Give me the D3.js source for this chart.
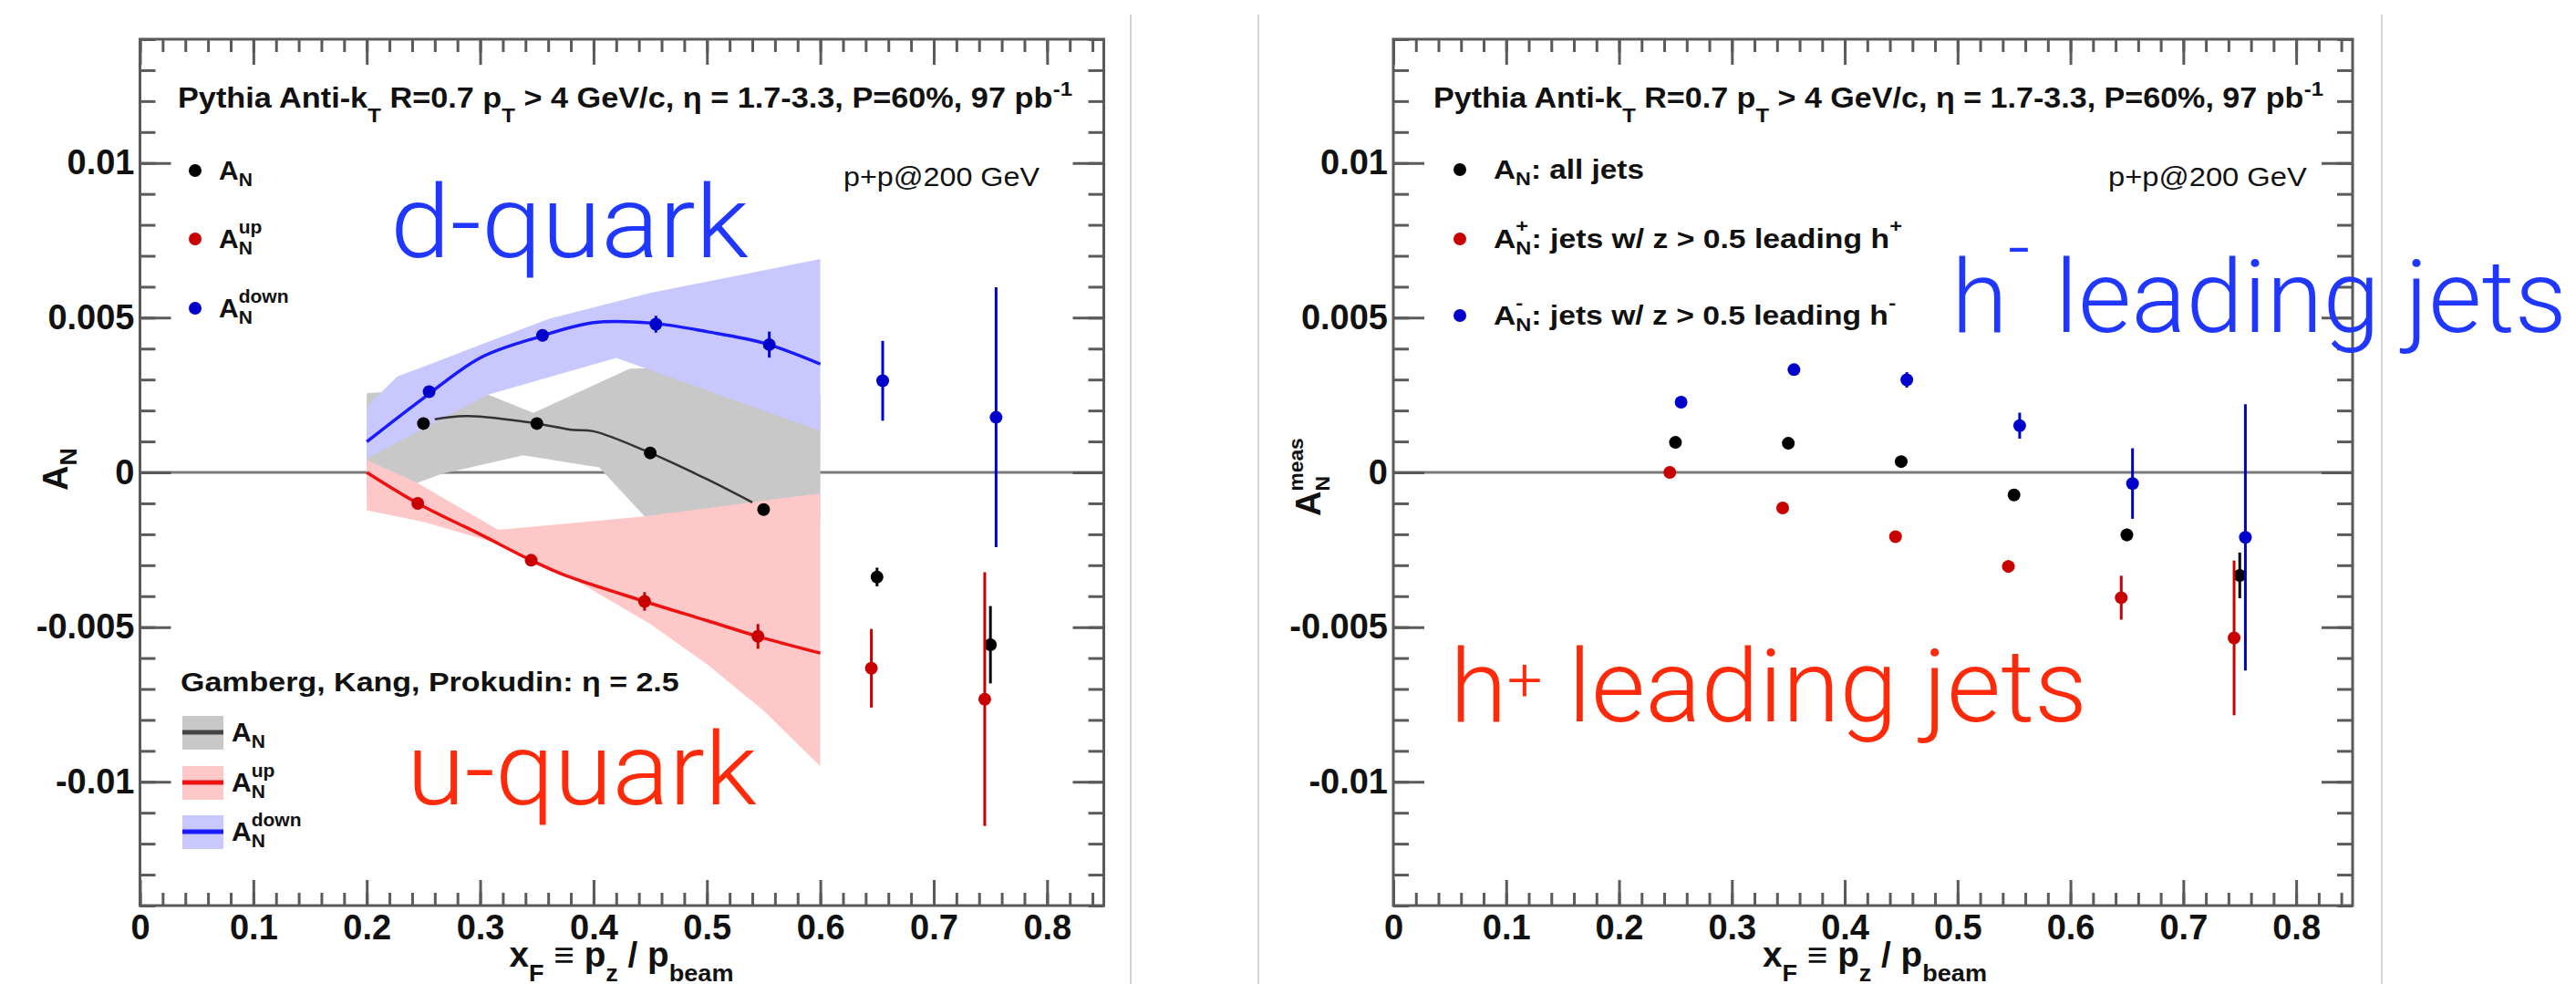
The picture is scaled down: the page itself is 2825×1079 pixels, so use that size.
<!DOCTYPE html>
<html>
<head>
<meta charset="utf-8">
<script src="https://cdn.jsdelivr.net/npm/d3@7"></script>
<style>
  body { margin: 0; background: #fff; }
  svg { display: block; }
  text { white-space: pre; }
</style>
</head>
<body>
<svg id="chart"></svg>
<script>
// x of the bins; the up / down sets sit a little left / right of them
const xBins = [0.25, 0.35, 0.45, 0.55, 0.65, 0.75];
const xUp   = [0.245, 0.345, 0.445, 0.545, 0.645, 0.745];
const xDown = [0.255, 0.355, 0.455, 0.555, 0.655, 0.755];

// left panel: projected A_N, all / up / down
const anAll     = [0.00158, 0.00158, 0.00063, -0.0012, -0.00338, -0.00557];
const anAllErr  = [0.0001, 0.0001, 0.0001, 0.00015, 0.0003, 0.00125];
const anUp      = [-0.001, -0.00284, -0.00417, -0.0053, -0.00633, -0.00733];
const anUpErr   = [0.00015, 0.00015, 0.0003, 0.0004, 0.00127, 0.0041];
const anDown    = [0.00261, 0.00443, 0.00479, 0.00413, 0.00296, 0.00178];
const anDownErr = [0.00015, 0.00015, 0.00027, 0.00042, 0.00129, 0.0042];

// Gamberg, Kang, Prokudin curves
const gkpAllX  = [0.26, 0.29, 0.35, 0.38, 0.40, 0.45, 0.50, 0.54];
const gkpAll   = [0.00172, 0.00182, 0.00158, 0.00138, 0.00133, 0.00063, -0.00022, -0.00097];
const gkpUpX   = [0.2, 0.245, 0.3, 0.345, 0.375, 0.445, 0.5, 0.545, 0.6];
const gkpUp    = [0, -0.001, -0.002, -0.00284, -0.00333, -0.00417, -0.00479, -0.0053, -0.00584];
const gkpDownX = [0.2, 0.25, 0.3, 0.35, 0.4, 0.45, 0.5, 0.55, 0.6];
const gkpDown  = [0.00099, 0.0024, 0.0037, 0.00436, 0.00484, 0.00483, 0.00455, 0.00418, 0.0035];

// and their bands (upper / lower edge)
const bandAllHiX  = [0.2, 0.25, 0.307, 0.347, 0.432, 0.5, 0.6];
const bandAllHi   = [0.00256, 0.0027, 0.00251, 0.00192, 0.00335, 0.0034, 0.0025];
const bandAllLoX  = [0.2, 0.2446, 0.267, 0.338, 0.405, 0.445, 0.5, 0.6];
const bandAllLo   = [-0.0006, -0.00034, -0.00004, 0.00055, 0.00016, -0.00142, -0.002, -0.0015];
const bandUpHiX   = [0.2, 0.2446, 0.316, 0.445, 0.6];
const bandUpHi    = [0.0004, -0.00034, -0.00186, -0.00142, -0.00068];
const bandUpLoX   = [0.2, 0.25, 0.316, 0.345, 0.38, 0.45, 0.5, 0.55, 0.6];
const bandUpLo    = [-0.00122, -0.0016, -0.0023, -0.0029, -0.0034, -0.0049, -0.0062, -0.0077, -0.0095];
const bandDownHiX = [0.2, 0.227, 0.2625, 0.294, 0.361, 0.45, 0.6];
const bandDownHi  = [0.00212, 0.0031, 0.00359, 0.00404, 0.00497, 0.0058, 0.0069];
const bandDownLoX = [0.2, 0.307, 0.42, 0.6];
const bandDownLo  = [0.00046, 0.00251, 0.0037, 0.00134];

// right panel: measured A_N, all jets / h+ leading / h- leading
const jetAll    = [0.00097, 0.00094, 0.00035, -0.00073, -0.00202, -0.00333];
const jetAllErr = [0.0001, 0.0001, 0.0001, 0.00015, 0.0002, 0.00074];
const jetPos    = [0, -0.00115, -0.00208, -0.00304, -0.00405, -0.00535];
const jetPosErr = [0.0001, 0.0001, 0.00015, 0.0002, 0.00071, 0.0025];
const jetNeg    = [0.00227, 0.00332, 0.00299, 0.00151, -0.00036, -0.0021];
const jetNegErr = [0.0001, 0.0001, 0.00025, 0.00042, 0.00114, 0.0043];

const xTicks = [0, 0.1, 0.2, 0.3, 0.4, 0.5, 0.6, 0.7, 0.8];
const yTicks = [-0.01, -0.005, 0, 0.005, 0.01];

const width = 2825, height = 1079;
const FONT = "'Liberation Sans', Arial, Helvetica, sans-serif";
const LIGHT = "Roboto, 'Liberation Sans', sans-serif";
const axisColor = '#5a5a5a';
const cBlack = '#000', cRed = '#c80000', cBlue = '#0000cc';

const svg = d3.select('#chart')
  .attr('width', width)
  .attr('height', height)
  .attr('viewBox', [0, 0, width, height]);

// text with sub / superscripts, every piece placed by hand
function richText(parent, x, y, segs, size, o = {}) {
  const t = parent.append('text')
    .attr('font-family', o.family || FONT)
    .attr('font-weight', o.weight || 'bold')
    .attr('fill', o.fill || '#111');
  const subDy = (o.sub != null ? o.sub : 0.3) * size;
  const supDy = (o.sup != null ? o.sup : 0.45) * size;
  const small = o.small || 0.7;
  let cursor = x, prevStart = x;
  segs.forEach(([txt, kind]) => {
    let fs = size, dy = 0, sx = cursor;
    if (kind === 'sub') { fs = size * small; dy = subDy; }
    if (kind === 'sup' || kind === 'stack') { fs = size * small; dy = -supDy; }
    if (kind === 'stack') sx = prevStart;
    const ts = t.append('tspan')
      .attr('x', sx).attr('y', y + dy)
      .attr('font-size', fs)
      .text(txt);
    const len = ts.node().getComputedTextLength();
    prevStart = sx;
    cursor = Math.max(cursor, sx + len);
  });
  return t;
}

// squeeze / stretch a text so it spans [x0, x0 + w]
function fitWidth(t, x0, w) {
  const bb = t.node().getBBox();
  const s = w / bb.width;
  t.attr('transform', `translate(${x0 - bb.x * s},0) scale(${s},1)`);
}

// gray separators of the two slide panels
[1240, 1380, 2612].forEach(xs => {
  svg.append('line')
    .attr('x1', xs).attr('x2', xs)
    .attr('y1', 16).attr('y2', height)
    .attr('stroke', '#d4d4d4').attr('stroke-width', 2);
});

function makePanel(left, right) {
  const x = d3.scaleLinear().domain([0, 0.85]).range([left, right]);
  const y = d3.scaleLinear().domain([-0.014, 0.014]).range([993, 43]);
  const g = svg.append('g');
  // zero line goes under the bands
  g.append('line')
    .attr('x1', left).attr('x2', right)
    .attr('y1', y(0)).attr('y2', y(0))
    .attr('stroke', '#7a7a7a').attr('stroke-width', 3);
  return { g, x, y };
}

function addAxes(p) {
  const { g, x, y } = p;
  const [x0, x1] = x.range();
  const [y0, y1] = y.range();
  const xMinor = d3.range(0, 43).map(i => i * 0.02).filter(v => v <= 0.85);
  const yMinor = d3.range(-14, 15).map(i => i / 1000);
  const fmtX = d => d === 0 ? '0' : d3.format('.1f')(d);
  const fmtY = d => d === 0 ? '0' : String(+d.toFixed(3));

  function put(gen, tx, ty) {
    const a = g.append('g').attr('transform', `translate(${tx},${ty})`).call(gen);
    a.select('.domain').remove();
    a.selectAll('line').attr('stroke', axisColor).attr('stroke-width', 3);
    a.selectAll('text')
      .attr('font-family', FONT).attr('font-weight', 'bold')
      .attr('font-size', 38).attr('fill', '#111');
  }
  put(d3.axisBottom(x).tickValues(xMinor).tickSize(-14).tickFormat(''), 0, y0);
  put(d3.axisBottom(x).tickValues(xTicks).tickSize(-28).tickPadding(10).tickFormat(fmtX), 0, y0);
  put(d3.axisTop(x).tickValues(xMinor).tickSize(-14).tickFormat(''), 0, y1);
  put(d3.axisTop(x).tickValues(xTicks).tickSize(-28).tickFormat(''), 0, y1);
  put(d3.axisLeft(y).tickValues(yMinor).tickSize(-17).tickFormat(''), x0, 0);
  put(d3.axisLeft(y).tickValues(yTicks).tickSize(-34).tickPadding(6).tickFormat(fmtY), x0, 0);
  put(d3.axisRight(y).tickValues(yMinor).tickSize(-17).tickFormat(''), x1, 0);
  put(d3.axisRight(y).tickValues(yTicks).tickSize(-34).tickFormat(''), x1, 0);

  g.append('rect')
    .attr('x', x0).attr('y', y1)
    .attr('width', x1 - x0).attr('height', y0 - y1)
    .attr('fill', 'none').attr('stroke', axisColor).attr('stroke-width', 3);

  // x title
  const xt = richText(g, 0, 1060,
    [['x', ''], ['F', 'sub'], [' \u2261 p', ''], ['z', 'sub'], [' / p', ''], ['beam', 'sub']],
    38, { sub: 0.42 });
  fitWidth(xt, x0 + 405, 246);
}

function band(p, hiX, hi, loX, lo, fill) {
  const pts = d3.zip(hiX, hi).concat(d3.zip(loX, lo).reverse());
  p.g.append('path')
    .attr('d', d3.line().x(d => p.x(d[0])).y(d => p.y(d[1]))(pts) + 'Z')
    .attr('fill', fill);
}

function curve(p, xs, ys, color, w) {
  p.g.append('path')
    .attr('d', d3.line().curve(d3.curveCatmullRom.alpha(0.5))
      .x(d => p.x(d[0])).y(d => p.y(d[1]))(d3.zip(xs, ys)))
    .attr('fill', 'none').attr('stroke', color).attr('stroke-width', w);
}

function points(p, xs, ys, errs, color) {
  const data = d3.zip(xs, ys, errs);
  p.g.append('g').selectAll('line')
    .data(data)
    .join('line')
    .attr('x1', d => p.x(d[0])).attr('x2', d => p.x(d[0]))
    .attr('y1', d => p.y(d[1] - d[2])).attr('y2', d => p.y(d[1] + d[2]))
    .attr('stroke', color).attr('stroke-width', 3);
  p.g.append('g').selectAll('circle')
    .data(data)
    .join('circle')
    .attr('cx', d => p.x(d[0])).attr('cy', d => p.y(d[1]))
    .attr('r', 7).attr('fill', color);
}

const titleSegs = [['Pythia Anti-k', ''], ['T', 'sub'], [' R=0.7 p', ''], ['T', 'sub'],
  [' > 4 GeV/c, \u03b7 = 1.7-3.3, P=60%, 97 pb', ''], ['-1', 'sup']];

// ---------- left panel ----------
const L = makePanel(153.5, 1210.5);
band(L, bandAllHiX, bandAllHi, bandAllLoX, bandAllLo, '#c8c8c8');
band(L, bandUpHiX, bandUpHi, bandUpLoX, bandUpLo, '#ffc8c8');
band(L, bandDownHiX, bandDownHi, bandDownLoX, bandDownLo, '#c8c8ff');
curve(L, gkpAllX, gkpAll, '#333', 2.5);
curve(L, gkpUpX, gkpUp, '#ee1111', 3.5);
curve(L, gkpDownX, gkpDown, '#1a1aff', 3.5);
points(L, xBins, anAll, anAllErr, cBlack);
points(L, xUp, anUp, anUpErr, cRed);
points(L, xDown, anDown, anDownErr, cBlue);
addAxes(L);

fitWidth(richText(L.g, 0, 118, titleSegs, 32, { sub: 0.5, sup: 0.42 }), 195, 981);
fitWidth(richText(L.g, 0, 204, [['p+p@200 GeV', '']], 30, { weight: 'normal' }), 925, 215);

// marker legend
const legL = [['', cBlack], ['up', cRed], ['down', cBlue]];
const legLY = [187, 262, 338];
legL.forEach(([sup, c], i) => {
  L.g.append('circle').attr('cx', 214).attr('cy', legLY[i]).attr('r', 7).attr('fill', c);
  const segs = [['A', ''], ['N', 'sub']];
  if (sup) segs.push([sup, 'stack']);
  richText(L.g, 240, legLY[i] + 10, segs, 30, { sub: 0.22, sup: 0.55 });
});

// theory legend
fitWidth(richText(L.g, 0, 758, [['Gamberg, Kang, Prokudin: \u03b7 = 2.5', '']], 30), 198, 547);
const legT = [['', '#c8c8c8', '#444'], ['up', '#ffc8c8', '#ee1111'], ['down', '#c8c8ff', '#1a1aff']];
const legTY = [803, 858, 912];
legT.forEach(([sup, fill, line], i) => {
  L.g.append('rect').attr('x', 200).attr('y', legTY[i] - 18).attr('width', 45).attr('height', 37).attr('fill', fill);
  L.g.append('line').attr('x1', 200).attr('x2', 245).attr('y1', legTY[i]).attr('y2', legTY[i])
    .attr('stroke', line).attr('stroke-width', 5);
  const segs = [['A', ''], ['N', 'sub']];
  if (sup) segs.push([sup, 'stack']);
  richText(L.g, 254, legTY[i] + 10, segs, 30, { sub: 0.22, sup: 0.55 });
});

// y title
const ytL = L.g.append('g').attr('transform', 'translate(74,538) rotate(-90)');
richText(ytL, 0, 0, [['A', ''], ['N', 'sub']], 38, { sub: 0.25 });

fitWidth(richText(L.g, 0, 282, [['d-quark', '']], 112, { family: LIGHT, weight: 300, fill: '#1f37ff' }), 428, 393);
fitWidth(richText(L.g, 0, 882, [['u-quark', '']], 112, { family: LIGHT, weight: 300, fill: '#ff2a0a' }), 446, 384);

// ---------- right panel ----------
const R = makePanel(1528, 2580);
points(R, xBins, jetAll, jetAllErr, cBlack);
points(R, xUp, jetPos, jetPosErr, cRed);
points(R, xDown, jetNeg, jetNegErr, cBlue);
addAxes(R);

fitWidth(richText(R.g, 0, 118, titleSegs, 32, { sub: 0.5, sup: 0.42 }), 1572, 976);
fitWidth(richText(R.g, 0, 204, [['p+p@200 GeV', '']], 30, { weight: 'normal' }), 2312, 218);

const legR = [
  [cBlack, [['A', ''], ['N', 'sub'], [': all jets', '']], 165],
  [cRed, [['A', ''], ['N', 'sub'], ['+', 'stack'], [': jets w/ z > 0.5 leading h', ''], ['+', 'sup']], 448],
  [cBlue, [['A', ''], ['N', 'sub'], ['-', 'stack'], [': jets w/ z > 0.5 leading h', ''], ['-', 'sup']], 441]
];
const legRY = [186, 262, 346];
legR.forEach(([c, segs, w], i) => {
  R.g.append('circle').attr('cx', 1601).attr('cy', legRY[i]).attr('r', 7).attr('fill', c);
  fitWidth(richText(R.g, 0, legRY[i] + 10, segs, 30, { sub: 0.25, sup: 0.55 }), 1638, w);
});

const ytR = R.g.append('g').attr('transform', 'translate(1448,566) rotate(-90)');
richText(ytR, 0, 0, [['A', ''], ['N', 'sub'], ['meas', 'stack']], 38, { sub: 0.25, sup: 0.5, small: 0.6 });

fitWidth(richText(R.g, 0, 364, [['h', ''], ['-', 'sup'], [' leading jets', '']], 112,
  { family: LIGHT, weight: 300, fill: '#1f37ff', sup: 0.57, small: 0.75 }), 2140, 675);
fitWidth(richText(R.g, 0, 791, [['h', ''], ['+', 'sup'], [' leading jets', '']], 112,
  { family: LIGHT, weight: 300, fill: '#ff2a0a', sup: 0.2, small: 0.6 }), 1590, 699);
</script>
</body>
</html>
